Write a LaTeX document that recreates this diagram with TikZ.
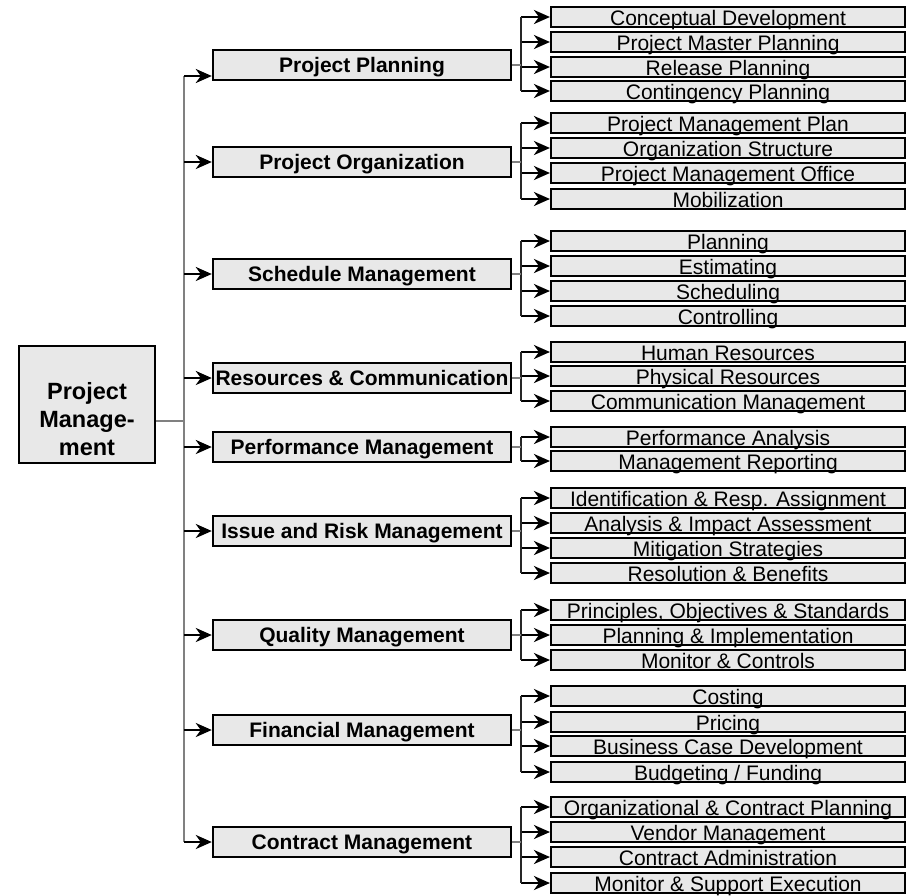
\documentclass[tikz,border=0pt]{standalone}
\usepackage{fontspec}
\setmainfont{Liberation Sans}
\usetikzlibrary{arrows.meta}
\definecolor{boxfill}{HTML}{E8E8E8}
\definecolor{linegray}{HTML}{808080}
\newcommand\myul[1]{\setbox0\hbox{#1}\rlap{\rule[-2.6pt]{\wd0}{1.3pt}}\box0}
\newcommand\leafgroup[4]{% #1 mid node, #2 number of leaves, #3 list y/text
  \foreach \yy/\lt [count=\k] in {#3} {
    \node[leafbox] (#1-\k) at (728,\yy) {\myul{\lt}};
    \draw[arr] ([xshift=-29pt]#1-\k.west) -- (#1-\k.west);
  }
  \draw[bracket] ([xshift=-29pt]#1-1.west) -- ([xshift=-29pt]#1-#2.west);
  \draw[stub] (#1.east) -- ([xshift=-29pt]#1-1.west |- #1.east);
}
\begin{document}
\begin{tikzpicture}[x=1pt,y=-1pt,
  leafbox/.style={draw,line width=2.1pt,fill=boxfill,minimum width=354pt,minimum height=20pt,
    inner sep=0pt,text height=16pt,text depth=0pt,font=\fontsize{21}{24}\selectfont},
  midbox/.style={draw,line width=2.4pt,fill=boxfill,minimum width=298pt,minimum height=30pt,
    inner sep=0pt,text height=15pt,text depth=0pt,font=\fontsize{21}{24}\selectfont\bfseries},
  mainbox/.style={draw,line width=2.4pt,fill=boxfill,minimum width=136pt,minimum height=117pt,inner sep=0pt},
  maintext/.style={align=center,inner sep=0pt,font=\fontsize{23.5}{28}\selectfont\bfseries},
  arr/.style={line width=2.5pt,-{Stealth[length=16pt,width=14pt,inset=5pt]}},
  trunk/.style={draw=linegray,line width=1.5pt},
  stub/.style={draw=linegray,line width=1.2pt},
  bracket/.style={draw=black!85,line width=1.5pt}
]
\useasboundingbox (0,0) rectangle (912,895);
% main box
\node[mainbox] (pm) at (87,404.5) {};
\node[maintext,anchor=north] (pmtext) at (87,382) {Project\\Manage-\\ment};
% mid boxes
\foreach \n/\y/\t in {pp/65/Project Planning, po/162/Project Organization, sm/274/Schedule Management,
  rc/378/Resources \& Communication, pf/447/Performance Management, ir/531/Issue and Risk Management,
  qm/635/Quality Management, fm/730/Financial Management, cm/842/Contract Management}
  \node[midbox] (\n) at (362,\y) {\t};
% trunk
\coordinate (trunktop) at (184,76);
\coordinate (trunkbot) at (184,842);
\draw[trunk] (trunktop) -- (trunkbot);
\draw[trunk] (pm.east |- 0,421) -- (trunktop |- 0,421);
\draw[arr] (trunktop) -- (pp.west |- trunktop);
\foreach \n in {po,sm,rc,pf,ir,qm,fm,cm}
  \draw[arr] (trunktop |- \n.west) -- (\n.west);
% leaves
\leafgroup{pp}{4}{17/Conceptual Development, 42/Project Master Planning, 67/Release Planning, 91/Contingency Planning}{}
\leafgroup{po}{4}{123/Project Management Plan, 148/Organization Structure, 173/Project Management Office, 199/Mobilization}{}
\leafgroup{sm}{4}{241/Planning, 266/Estimating, 291/Scheduling, 316/Controlling}{}
\leafgroup{rc}{3}{352/Human Resources, 376/Physical Resources, 401/Communication Management}{}
\leafgroup{pf}{2}{437/Performance Analysis, 461/Management Reporting}{}
\leafgroup{ir}{4}{498/Identification \& Resp. Assignment, 523/Analysis \& Impact Assessment, 548/Mitigation Strategies, 573/Resolution \& Benefits}{}
\leafgroup{qm}{3}{610/{Principles, Objectives \& Standards}, 635/Planning \& Implementation, 660/Monitor \& Controls}{}
\leafgroup{fm}{4}{696/Costing, 722/Pricing, 746/Business Case Development, 772/{Budgeting / Funding}}{}
\leafgroup{cm}{4}{807/Organizational \& Contract Planning, 832/Vendor Management, 857/Contract Administration, 883/Monitor \& Support Execution}{}
\end{tikzpicture}
\end{document}
